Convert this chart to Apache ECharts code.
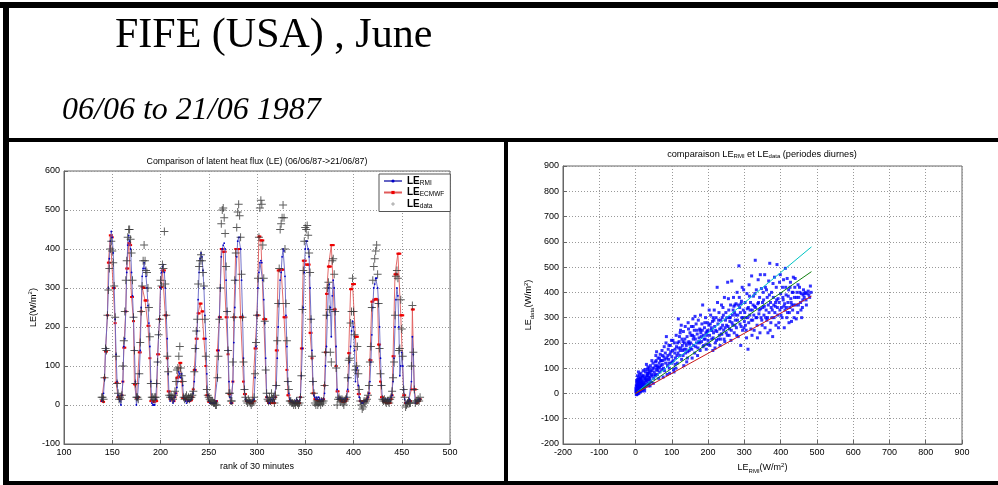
<!DOCTYPE html>
<html>
<head>
<meta charset="UTF-8">
<title>FIFE (USA) , June</title>
<script src="https://cdn.jsdelivr.net/npm/echarts@6/dist/echarts.min.js"></script>
<style>
  html, body { margin: 0; padding: 0; background: #fff; }
  #main { width: 998px; height: 485px; }
</style>
</head>
<body>
<div id="main"></div>
<script>
// left panel: one value per rank of 30 minutes, starting at rank 139
var rankStart = 139;

var leRMI = [
  10,15,30,65,140,145,230,300,375,420,445,430,390,300,220,130,60,25,15,10,0,25,
  60,150,170,240,340,410,435,420,400,340,280,225,140,60,0,15,20,
  80,140,250,330,350,365,350,330,300,255,210,150,60,5,0,0,0,15,
  55,110,180,220,300,340,355,360,340,300,230,170,80,20,10,20,15,5,10,20,30,
  45,60,85,80,70,80,50,20,15,10,5,10,10,10,12,15,20,30,
  60,90,145,190,270,340,375,390,380,345,300,230,170,80,25,10,5,5,5,5,5,5,5,10,
  70,140,225,300,380,400,410,415,400,320,240,140,60,20,5,5,
  60,160,250,320,380,420,430,430,400,320,230,120,40,15,10,10,10,12,10,8,10,12,15,
  70,150,230,300,340,365,370,365,320,270,210,120,20,10,5,5,10,15,
  10,15,10,20,50,120,200,260,320,340,380,400,395,330,230,150,60,30,15,10,10,8,5,5,10,15,10,8,10,20,
  75,145,250,340,400,420,420,400,380,300,220,140,60,25,20,15,20,15,20,15,10,15,10,15,30,100,
  150,230,300,310,250,175,280,320,300,240,150,40,15,15,20,15,10,15,15,10,15,20,40,
  70,110,150,190,215,200,140,60,90,95,50,20,10,5,5,5,10,10,10,15,20,30,
  60,110,180,250,300,310,325,325,300,260,200,120,50,15,10,10,15,10,15,10,15,10,20,25,
  60,120,200,270,300,280,200,75,100,135,100,40,15,5,5,10,10,15,
  10,60,175,130,40,5,10,10,15,10,15
];

var leECMWF = [
  10,10,8,70,137,137,230,365,365,435,435,430,300,300,210,57,57,20,20,15,15,25,
  60,147,147,240,350,350,415,415,410,277,277,215,53,53,18,18,20,
  135,135,240,302,302,300,268,268,268,203,203,120,10,10,10,8,8,10,
  10,130,130,220,302,302,345,345,345,230,230,120,35,35,15,15,15,10,10,20,30,
  70,70,72,108,108,60,18,18,15,15,12,12,10,10,12,12,20,40,
  90,90,170,170,235,235,260,260,240,240,170,170,100,25,25,8,8,5,5,5,5,5,5,10,
  140,140,225,225,400,400,393,393,393,225,225,130,28,28,5,5,
  60,225,225,400,400,400,400,400,225,225,225,60,28,28,10,10,8,8,5,5,5,10,10,
  145,145,230,230,432,432,422,422,422,220,220,220,20,10,5,5,5,5,
  5,5,5,20,140,140,345,345,347,347,347,347,225,225,225,90,25,25,10,10,8,8,5,5,5,10,10,5,5,20,
  145,145,370,370,370,360,360,360,360,185,185,120,30,30,15,15,12,12,10,10,10,12,12,15,50,135,
  285,285,355,355,355,410,410,410,245,245,100,35,35,15,15,10,10,8,8,10,10,15,35,
  133,133,297,297,310,310,310,175,175,175,28,28,10,10,8,8,10,10,10,15,20,30,
  115,115,265,265,270,270,272,272,270,155,155,60,20,20,10,8,8,5,5,5,5,5,15,25,
  125,125,335,335,335,388,388,388,230,230,230,25,25,5,5,5,10,10,
  10,40,245,245,40,40,5,5,10,10,15
];

var leData = [
  20,20,15,70,145,140,230,295,350,400,420,395,365,305,225,125,55,30,15,20,15,25,
  100,165,240,320,370,430,450,450,425,390,320,225,140,55,20,20,15,
  80,160,240,305,370,410,370,345,340,300,250,175,55,20,20,15,20,20,
  55,110,180,220,320,305,360,350,445,310,230,125,85,25,20,25,20,15,25,35,60,
  90,95,125,150,95,75,60,20,15,20,25,15,20,15,20,20,25,35,
  85,145,190,220,310,355,370,385,370,340,305,220,125,40,25,20,15,10,10,10,5,5,0,0,
  70,125,220,300,465,500,505,480,440,355,240,140,30,30,10,10,
  110,225,320,390,455,495,515,485,430,335,225,110,40,20,10,5,15,10,5,0,5,10,20,
  80,160,230,325,430,505,525,515,410,325,215,90,30,15,10,20,10,30,
  15,20,5,25,50,165,260,350,450,465,480,513,480,400,260,165,60,40,10,10,5,5,0,5,0,10,5,0,5,20,
  75,245,345,420,455,450,460,435,390,340,220,125,60,30,5,0,10,0,5,10,0,10,5,10,50,135,
  230,300,315,245,135,110,370,375,335,240,95,0,15,20,15,10,15,5,0,10,15,20,70,
  115,120,210,240,325,240,180,90,100,150,80,40,10,0,-10,-5,10,5,10,15,25,50,
  110,150,250,320,355,375,395,410,335,260,145,80,50,15,10,15,10,5,10,10,5,15,20,35,
  70,110,230,330,345,325,140,145,270,195,125,40,20,-5,0,5,10,5,
  5,100,255,135,40,5,10,10,15,10,20
];

// right panel: [LE_RMI, LE_data] pairs, daytime periods
var scatterPts = [
  [2,5],[3,12],[5,0],[4,25],[6,18],[8,8],[7,35],[10,15],[9,48],[12,22],[11,5],[13,40],[15,30],[14,60],
  [16,12],[18,45],[17,25],[19,70],[20,35],[3,-5],[6,40],[1,20],[5,55],[10,30],[12,65],[8,28],[15,18],
  [18,10],[4,2],[7,10],[2,30],[9,0],[13,52],[16,38],[20,15],[11,75],
  [1,8],[2,15],[3,35],[4,45],[5,10],[6,28],[7,50],[8,62],[9,20],[10,40],[11,55],[12,10],[13,28],[14,45],
  [15,80],[16,55],[17,40],[18,65],[19,30],[20,50],[22,70],[24,35],[26,95],[28,30],[30,55],[32,80],
  [34,40],[36,65],[38,100],[40,50],[5,70],[8,85],[3,50],[2,-3],[6,-2],[14,8],[22,18],[27,58],[33,72],[37,90],
  [22,40],[24,60],[25,20],[27,85],[28,50],[30,35],[31,70],[33,95],[35,55],[36,30],[38,80],[40,65],
  [41,110],[43,45],[45,90],[46,70],[48,120],[50,60],[23,25],[26,45],[29,65],[32,50],[34,105],[37,40],
  [39,58],[42,88],[44,75],[47,100],[49,40],[21,90],[30,115],[35,80],[45,130],[25,10],[40,30],
  [52,85],[54,110],[55,70],[57,130],[58,95],[60,75],[62,140],[63,100],[65,120],[67,85],[68,155],[70,110],
  [72,95],[73,170],[75,130],[77,100],[78,145],[80,90],[82,160],[83,120],[85,225],[86,140],[88,110],
  [90,175],[91,135],[93,100],[95,155],[96,190],[98,120],[100,145],[56,150],[64,60],[71,130],[79,185],
  [87,75],[94,80],[99,210],[60,105],[76,65],[84,200],
  [51,100],[53,75],[55,125],[59,110],[61,90],[66,105],[69,130],[74,115],[81,135],[89,150],[92,120],
  [97,165],[58,165],[66,140],[74,150],[92,190],
  [102,170],[104,130],[105,95],[107,200],[108,160],[110,140],[112,230],[113,185],[115,120],[117,160],
  [118,295],[120,205],[122,150],[124,250],[125,180],[127,135],[128,215],[130,170],[132,245],[133,110],
  [135,200],[137,265],[138,160],[140,190],[142,225],[143,140],[145,280],[147,205],[148,170],[150,240],
  [103,210],[111,100],[119,180],[126,270],[134,175],[141,125],[146,255],[149,195],[106,85],[121,225],
  [101,125],[109,175],[114,150],[116,200],[123,170],[129,190],[131,150],[136,215],[139,175],[144,200],
  [109,115],[123,240],[131,205],[144,165],
  [152,200],[154,265],[155,175],[157,230],[158,295],[160,190],[162,250],[163,160],[165,215],[167,275],
  [168,200],[170,235],[172,180],[173,290],[175,220],[177,255],[178,170],[180,240],[182,205],[183,275],
  [185,350],[187,230],[188,190],[190,260],[192,215],[193,300],[195,175],[197,245],[198,280],[200,210],
  [156,140],[164,305],[171,150],[179,310],[186,185],[194,240],[161,225],[176,200],
  [151,180],[153,230],[159,215],[166,185],[169,250],[174,205],[181,225],[184,250],[189,215],[191,280],
  [196,230],[199,250],[159,265],[178,250],[196,195],
  [202,270],[204,230],[205,190],[207,310],[208,250],[210,215],[212,285],[213,170],[215,240],[217,330],
  [218,265],[220,200],[222,300],[224,245],[225,420],[227,275],[228,215],[230,320],[232,255],[233,190],
  [235,290],[237,350],[238,235],[240,270],[242,310],[244,215],[245,380],[247,260],[248,290],[250,240],
  [203,330],[211,250],[219,180],[226,360],[234,215],[241,340],[246,205],[209,260],
  [201,195],[206,275],[214,220],[216,290],[221,250],[223,210],[229,290],[231,230],[236,260],[239,300],
  [243,250],[249,320],[214,300],[236,235],
  [252,300],[254,440],[255,265],[257,330],[258,230],[260,285],[262,350],[264,250],[265,445],[267,310],
  [268,270],[270,380],[272,240],[273,320],[275,290],[277,355],[278,260],[280,400],[282,310],[283,225],
  [285,505],[287,340],[288,275],[290,190],[292,365],[293,300],[295,250],[297,330],[298,410],[300,285],
  [256,375],[263,210],[271,345],[279,230],[286,380],[294,420],[299,260],[261,300],
  [251,270],[253,230],[259,300],[266,280],[269,330],[274,270],[276,310],[281,290],[284,350],[289,320],
  [291,265],[296,300],[259,255],[274,350],[291,355],
  [302,360],[304,300],[305,250],[307,395],[308,335],[310,175],[312,280],[313,430],[315,310],[317,360],
  [318,255],[320,465],[322,330],[323,290],[325,385],[327,250],[328,345],[330,527],[332,300],[333,410],
  [335,270],[337,355],[338,450],[340,315],[342,380],[343,240],[345,335],[347,415],[348,290],[350,360],
  [306,220],[314,385],[321,230],[329,395],[336,220],[344,470],[349,270],[311,340],
  [301,320],[303,270],[309,300],[316,330],[319,290],[324,350],[326,310],[331,340],[334,300],[339,360],
  [341,330],[346,300],
  [352,400],[354,310],[355,345],[357,260],[358,420],[360,330],[362,290],[363,380],[365,240],[367,445],
  [368,320],[370,515],[372,360],[373,280],[375,400],[377,330],[378,225],[380,380],[382,300],[383,460],
  [385,345],[387,270],[388,420],[390,510],[392,310],[393,375],[395,280],[397,440],[398,330],[400,395],
  [356,470],[364,300],[371,250],[379,435],[386,360],[394,260],[399,470],[361,410],
  [351,340],[353,370],[359,300],[366,350],[369,390],[374,340],[376,300],[381,350],[384,320],[389,370],
  [391,340],[396,360],
  [402,340],[404,300],[405,420],[407,370],[408,450],[410,260],[412,330],[413,495],[415,390],[417,300],
  [418,455],[420,360],[422,410],[423,280],[425,340],[427,440],[428,375],[430,285],[432,400],[433,330],
  [435,460],[437,300],[438,380],[440,455],[442,350],[445,400],[447,320],[450,380],[452,420],[455,360],
  [457,395],[460,340],[463,410],[465,380],[468,400],[470,370],[473,395],[478,390],[482,425],[411,355],
  [419,320],[426,420],[431,350],[443,295],[448,430],[458,300],[462,390],
  [401,310],[406,380],[409,345],[414,420],[416,340],[421,385],[424,320],[429,360],[434,400],[436,350],
  [439,420],[444,380],[449,350],[453,400],[456,330],[461,370],[466,395],[471,350],[476,405],[480,380],
  [484,400]
];

// fitted lines drawn over the scatter
var lineCyan = [[0, 0], [485, 580]];
var lineGreen = [[0, 0], [485, 482]];
var lineRed = [[0, 0], [485, 385]];

function withRank(values) {
    return values.map(function (v, i) { return [rankStart + i, v]; });
}

var SANS = '"Liberation Sans", Arial, Helvetica, sans-serif';
var SERIF = '"Liberation Serif", "Times New Roman", serif';
var PLUS = 'path://M4.4,0H5.6V4.4H10V5.6H5.6V10H4.4V5.6H0V4.4H4.4Z';

var richSub = {
    m: { fontFamily: SANS, fontSize: 9, color: '#000', lineHeight: 12 },
    s: { fontFamily: SANS, fontSize: 6, color: '#000', lineHeight: 5, verticalAlign: 'bottom' },
    p: { fontFamily: SANS, fontSize: 6, color: '#000', lineHeight: 5, verticalAlign: 'top' }
};

var legendSubs = { 'LE_RMI': 'RMI', 'LE_ECMWF': 'ECMWF', 'LE_data': 'data' };

function axisCommon(min, max, interval, gridIndex) {
    return {
        type: 'value',
        gridIndex: gridIndex,
        min: min,
        max: max,
        interval: interval,
        axisLine: { show: true, onZero: false, lineStyle: { color: '#666', width: 1 } },
        axisTick: { show: true, inside: true, length: 4, lineStyle: { color: '#666' } },
        axisLabel: { fontFamily: SANS, fontSize: 9, color: '#000', margin: 4, showMinLabel: true, showMaxLabel: true },
        splitLine: { show: true, lineStyle: { color: '#999', type: [1, 2], width: 1 } }
    };
}

var myChart = echarts.init(document.getElementById('main'));

var xLeft = axisCommon(100, 500, 50, 0);
xLeft.name = 'rank of 30 minutes';
xLeft.nameLocation = 'middle';
xLeft.nameGap = 12;
xLeft.nameTextStyle = { fontFamily: SANS, fontSize: 9, color: '#000' };

var yLeft = axisCommon(-100, 600, 100, 0);
yLeft.name = '{m|LE(W/m}{p|2}{m|)}';
yLeft.nameLocation = 'middle';
yLeft.nameGap = 24;
yLeft.nameTextStyle = { rich: richSub };

var xRight = axisCommon(-200, 900, 100, 1);
xRight.name = '{m|LE}{s|RMI}{m|(W/m}{p|2}{m|)}';
xRight.nameLocation = 'middle';
xRight.nameGap = 10;
xRight.nameTextStyle = { rich: richSub };

var yRight = axisCommon(-200, 900, 100, 1);
yRight.name = '{m|LE}{s|data}{m|(W/m}{p|2}{m|)}';
yRight.nameLocation = 'middle';
yRight.nameGap = 28;
yRight.nameTextStyle = { rich: richSub };

var option = {
    backgroundColor: '#fff',
    animation: false,
    grid: [
        { left: 64, top: 171, width: 386, height: 273, show: true, borderColor: '#666', borderWidth: 1,
          containLabel: false, outerBoundsMode: 'none' },
        { left: 563, top: 166, width: 399, height: 278, show: true, borderColor: '#666', borderWidth: 1,
          containLabel: false, outerBoundsMode: 'none' }
    ],
    xAxis: [xLeft, xRight],
    yAxis: [yLeft, yRight],
    legend: {
        data: ['LE_RMI', 'LE_ECMWF', 'LE_data'],
        orient: 'vertical',
        left: 379,
        top: 174,
        itemWidth: 18,
        itemHeight: 4,
        itemGap: 1,
        padding: [2, 6, 2, 4],
        borderColor: '#555',
        borderWidth: 1,
        backgroundColor: '#fff',
        selectedMode: false,
        formatter: function (name) {
            return '{m|LE}{s|' + legendSubs[name] + '}';
        },
        textStyle: {
            rich: {
                m: { fontFamily: SANS, fontSize: 10, fontWeight: 'bold', color: '#000', lineHeight: 11 },
                s: { fontFamily: SANS, fontSize: 6.5, color: '#000', lineHeight: 5, verticalAlign: 'bottom' }
            }
        }
    },
    graphic: [
        // slide frame
        { type: 'rect', shape: { x: 0, y: 2, width: 998, height: 6 }, style: { fill: '#000' } },
        { type: 'rect', shape: { x: 3, y: 2, width: 6, height: 483 }, style: { fill: '#000' } },
        { type: 'rect', shape: { x: 3, y: 138, width: 995, height: 4 }, style: { fill: '#000' } },
        { type: 'rect', shape: { x: 504, y: 138, width: 4, height: 347 }, style: { fill: '#000' } },
        { type: 'rect', shape: { x: 3, y: 481, width: 995, height: 4 }, style: { fill: '#000' } },
        { type: 'text', x: 115, y: 36, style: {
            text: 'FIFE (USA) , June', font: '42px ' + SERIF, fill: '#000',
            textAlign: 'left', textVerticalAlign: 'middle' } },
        { type: 'text', x: 62, y: 111, style: {
            text: '06/06 to 21/06 1987', font: 'italic 32px ' + SERIF, fill: '#000',
            textAlign: 'left', textVerticalAlign: 'middle' } },
        { type: 'text', x: 257, y: 162, style: {
            text: 'Comparison of latent heat flux (LE) (06/06/87->21/06/87)', font: '8.8px ' + SANS,
            fill: '#000', textAlign: 'center', textVerticalAlign: 'middle' } },
        { type: 'text', x: 762, y: 154, style: {
            text: '{m|comparaison LE}{s|RMI}{m| et LE}{s|data}{m| (periodes diurnes)}',
            rich: {
                m: { fontFamily: SANS, fontSize: 9.2, fill: '#000', lineHeight: 11 },
                s: { fontFamily: SANS, fontSize: 6, fill: '#000', lineHeight: 5, verticalAlign: 'bottom' }
            },
            textAlign: 'center', textVerticalAlign: 'middle' } }
    ],
    series: [
        {
            name: 'LE_ECMWF',
            type: 'line',
            xAxisIndex: 0, yAxisIndex: 0,
            data: withRank(leECMWF),
            symbol: 'rect',
            symbolSize: [3, 2],
            showAllSymbol: true,
            lineStyle: { color: '#e05a5a', width: 0.9 },
            itemStyle: { color: '#ee0000' },
            z: 2
        },
        {
            name: 'LE_RMI',
            type: 'line',
            xAxisIndex: 0, yAxisIndex: 0,
            data: withRank(leRMI),
            symbol: 'circle',
            symbolSize: 1.8,
            showAllSymbol: true,
            lineStyle: { color: '#6464c4', width: 0.9 },
            itemStyle: { color: '#0000c8' },
            z: 3
        },
        {
            name: 'LE_data',
            type: 'scatter',
            xAxisIndex: 0, yAxisIndex: 0,
            data: withRank(leData),
            symbol: PLUS,
            symbolSize: 8,
            itemStyle: { color: '#333' },
            z: 4
        },
        {
            name: 'scatter',
            type: 'scatter',
            xAxisIndex: 1, yAxisIndex: 1,
            data: scatterPts,
            symbol: 'rect',
            symbolSize: 3,
            itemStyle: { color: '#0000ff' },
            z: 2
        },
        {
            name: 'fit cyan', type: 'line', xAxisIndex: 1, yAxisIndex: 1, data: lineCyan,
            showSymbol: false, lineStyle: { color: '#00c4c4', width: 1 }, z: 3
        },
        {
            name: 'fit green', type: 'line', xAxisIndex: 1, yAxisIndex: 1, data: lineGreen,
            showSymbol: false, lineStyle: { color: '#108010', width: 1 }, z: 3
        },
        {
            name: 'fit red', type: 'line', xAxisIndex: 1, yAxisIndex: 1, data: lineRed,
            showSymbol: false, lineStyle: { color: '#c81818', width: 1 }, z: 3
        }
    ]
};

myChart.setOption(option);
</script>
</body>
</html>
